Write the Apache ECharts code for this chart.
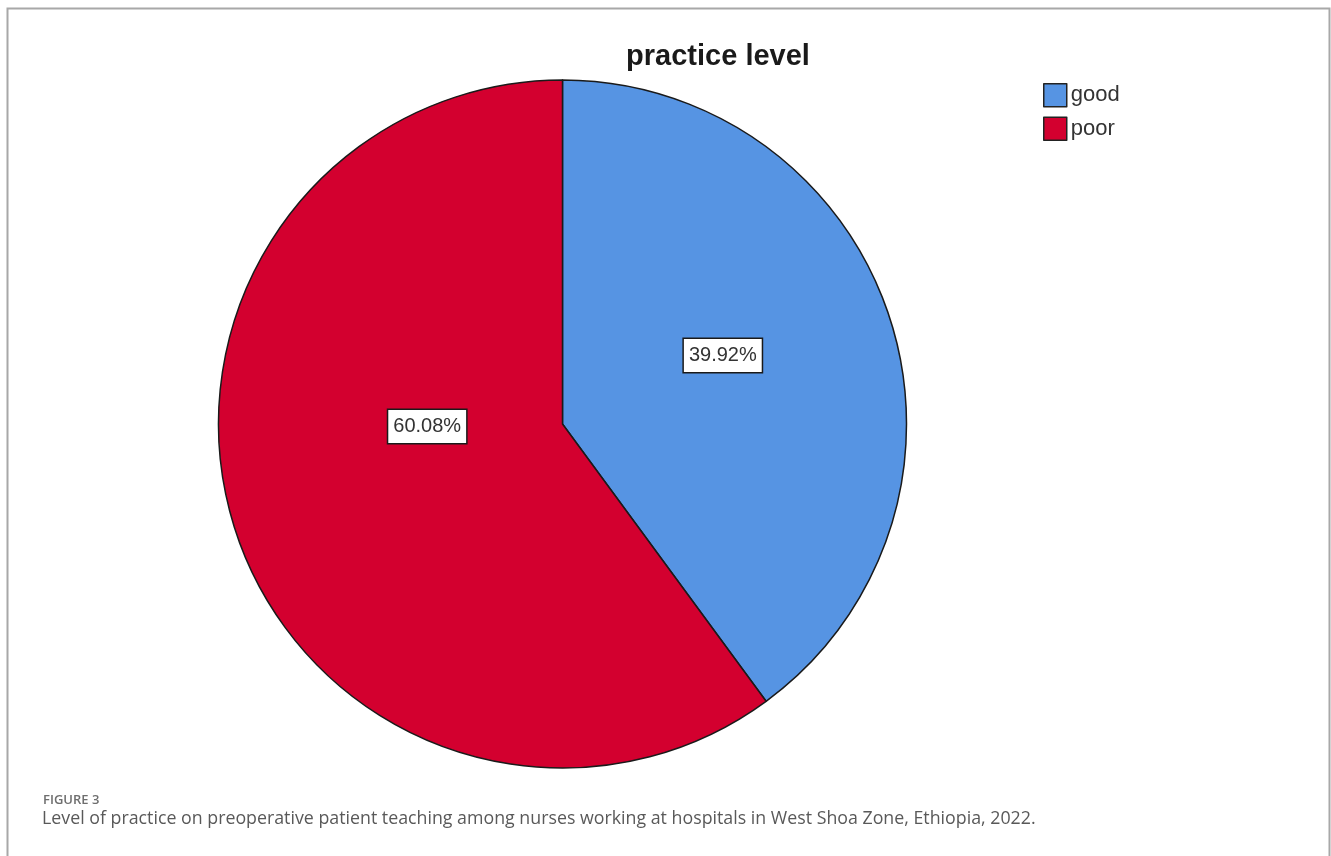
<!DOCTYPE html>
<html>
<head>
<meta charset="utf-8">
<script src="https://cdn.jsdelivr.net/npm/echarts@6/dist/echarts.min.js"></script>
<style>
html,body{margin:0;padding:0;background:#fff;}
#c{width:1331px;height:856px;}
</style>
</head>
<body>
<div id="c"></div>
<script>
const categories = ['good', 'poor'];
const percentages = [39.92, 60.08];
const chartTitle = 'practice level';
const figureLabel = 'FIGURE 3';
const figureCaption = 'Level of practice on preoperative patient teaching among nurses working at hospitals in West Shoa Zone, Ethiopia, 2022.';
const colors = ['#5694e3', '#d3002f'];
const labelOffsets = [[-6, -14], [31, -52]];

const chart = echarts.init(document.getElementById('c'), null, {renderer: 'canvas'});
const option = {
  animation: false,
  backgroundColor: '#fff',
  graphic: [{
    type: 'rect',
    shape: {x: 7.5, y: 8.5, width: 1322, height: 900},
    style: {fill: 'none', stroke: '#a8a8a8', lineWidth: 2}
  }],
  title: [{
    text: chartTitle,
    left: 713, top: 37, textAlign: 'center',
    textStyle: {fontFamily: 'Liberation Sans, Arial, sans-serif', fontSize: 29, fontWeight: 'bold', color: '#1a1a1a'}
  }, {
    text: figureLabel,
    left: 38, top: 789,
    textStyle: {fontFamily: 'Open Sans, sans-serif', fontSize: 13, fontWeight: 600, color: '#6e6e6e'}
  }, {
    text: figureCaption,
    left: 37, top: 805,
    textStyle: {fontFamily: 'Open Sans, sans-serif', fontSize: 17.8, fontWeight: 'normal', color: '#595959'}
  }],
  legend: {
    orient: 'vertical',
    left: 1043, top: 83,
    padding: 0,
    itemWidth: 23, itemHeight: 23, itemGap: 9,
    icon: 'rect',
    itemStyle: {borderColor: '#222', borderWidth: 1.5},
    textStyle: {fontFamily: 'Liberation Sans, Arial, sans-serif', fontSize: 22, color: '#333', padding: [0, 0, 0, -1]},
    data: categories
  },
  series: [{
    type: 'pie',
    center: [562.5, 424],
    radius: 344,
    startAngle: 90,
    clockwise: true,
    data: categories.map((n, i) => ({name: n, value: percentages[i], itemStyle: {color: colors[i]}})),
    itemStyle: {borderColor: '#1a1a1a', borderWidth: 1.5},
    label: {
      show: true,
      position: 'inside',
      formatter: p => p.value.toFixed(2) + '%',
      fontFamily: 'Liberation Sans, Arial, sans-serif',
      fontSize: 20,
      color: '#333',
      backgroundColor: '#fff',
      borderColor: '#1a1a1a',
      borderWidth: 1.5,
      padding: [6, 5, 5, 5],
      lineHeight: 22
    },
    labelLayout: p => ({dx: labelOffsets[p.dataIndex][0], dy: labelOffsets[p.dataIndex][1]}),
    labelLine: {show: false},
    emphasis: {disabled: true}
  }]
};
chart.setOption(option);
</script>
</body>
</html>
